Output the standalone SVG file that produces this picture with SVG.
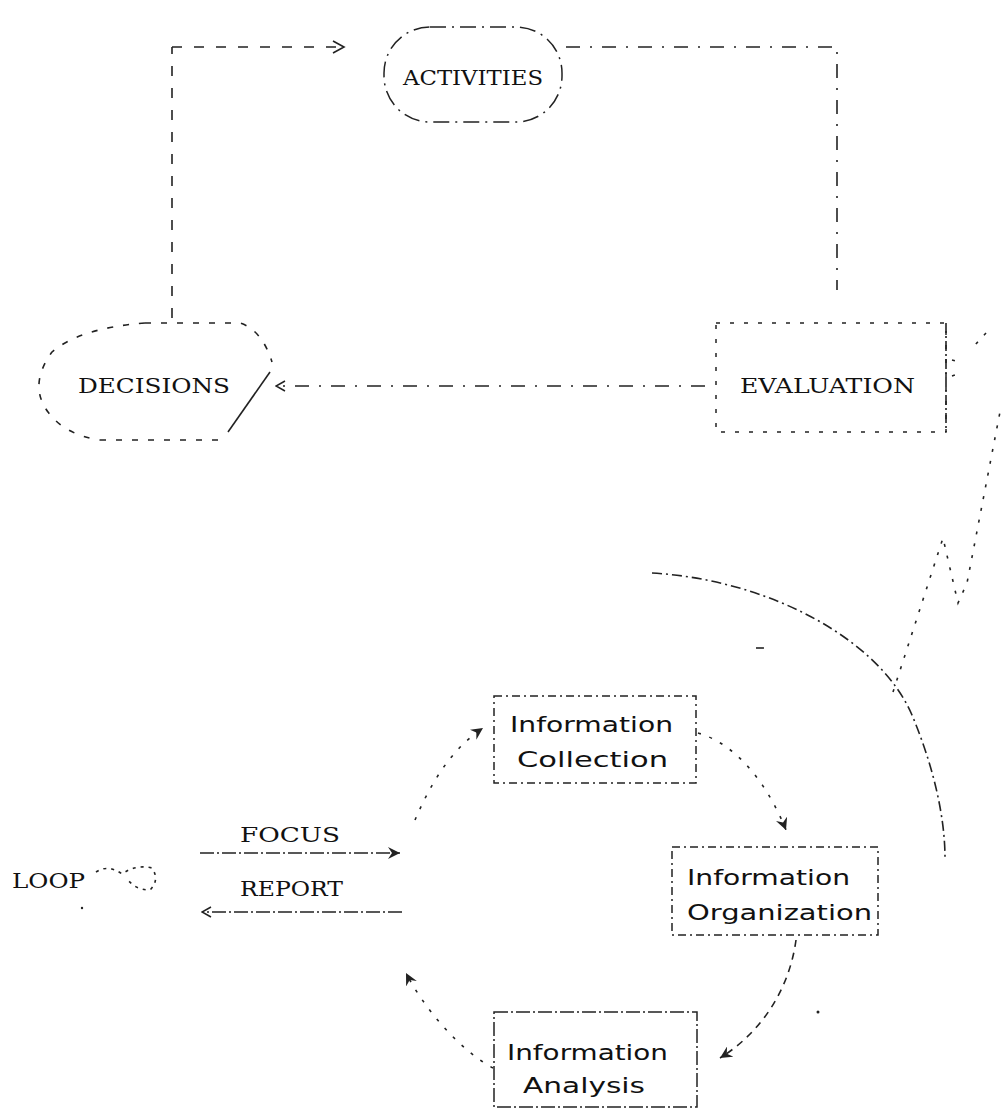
<svg xmlns="http://www.w3.org/2000/svg" width="1001" height="1110" viewBox="0 0 1001 1110">
<style>
.bg{fill:#fff}
.lbl{font-family:"DejaVu Serif","Liberation Serif",serif;font-size:21px;fill:#111}
.info{font-family:"DejaVu Sans","Liberation Sans",sans-serif;font-size:22px;fill:#111}
.dash{fill:none;stroke:#222;stroke-width:1.6;stroke-dasharray:10 12}
.dashdot{fill:none;stroke:#222;stroke-width:1.6;stroke-dasharray:14 10 2 10}
.dot{fill:none;stroke:#222;stroke-width:1.6;stroke-dasharray:3 9}
.box{fill:none;stroke:#222;stroke-width:1.5;stroke-dasharray:8 4 2 4}
.solid{fill:none;stroke:#222;stroke-width:1.6}
</style>
<defs>
<marker id="chev" markerWidth="14" markerHeight="14" refX="12" refY="7" orient="auto" markerUnits="userSpaceOnUse">
<path d="M1,1 L12,7 L1,13" fill="none" stroke="#222" stroke-width="1.6"/>
</marker>
<marker id="head" markerWidth="14" markerHeight="12" refX="12" refY="6" orient="auto" markerUnits="userSpaceOnUse">
<path d="M0,0 L12,6 L0,12 L4,6 Z" fill="#222"/>
</marker>
<marker id="opn" markerWidth="12" markerHeight="12" refX="11" refY="6" orient="auto" markerUnits="userSpaceOnUse">
<path d="M2,1 L11,6 L2,11" fill="none" stroke="#222" stroke-width="1.5"/>
</marker>
</defs>
<rect class="bg" width="1001" height="1110"/>

<g id="connectors">
<path class="dash" d="M172,318 L172,47"/>
<path class="dash" d="M172,47 L344,47" marker-end="url(#chev)"/>
<path class="dashdot" d="M566,47 L837,47 L837,290"/>
<path class="dashdot" d="M705,386 L276,386" marker-end="url(#opn)"/>
<path class="dot" style="stroke-dasharray:10 4 2 4" d="M652,573 C770,580 880,640 912,715 C935,770 945,820 945,858"/>
<path class="dot" d="M893,692 L943,538 L958,603 L967,583 L1000,412"/>
<path class="solid" d="M756,648 L764,648"/>
<path class="dot" d="M986,333 L975,345 M952,360 L960,362 M952,376 L958,374"/>
<path class="dot" d="M200,853 L400,853" style="stroke-dasharray:14 3 2 3" marker-end="url(#head)"/>
<path class="dot" d="M402,912 L202,912" style="stroke-dasharray:14 3 2 3" marker-end="url(#opn)"/>
<path class="dot" d="M415,820 C430,785 450,750 483,728" marker-end="url(#head)"/>
<path class="dot" d="M698,733 C740,745 770,790 786,830" marker-end="url(#head)"/>
<path class="dash" style="stroke-dasharray:7 6" d="M796,940 C790,985 765,1030 720,1058" marker-end="url(#head)"/>
<path class="dot" d="M493,1068 C460,1050 425,1010 406,973" marker-end="url(#head)"/>
<circle cx="818" cy="1012" r="1.5" fill="#222"/>
<circle cx="82" cy="908" r="1.2" fill="#222"/>
</g>

<g id="activities">
<rect class="box" style="stroke-dasharray:16 6 2 6" x="384" y="27" width="178" height="95" rx="46" ry="46"/>
<text class="lbl" x="403" y="85" textLength="140" lengthAdjust="spacingAndGlyphs">ACTIVITIES</text>
</g>

<g id="decisions">
<path class="dot" style="stroke-dasharray:6 10" d="M145,323 L240,323 Q262,330 272,362 M100,440 L225,440 M145,323 Q80,328 52,352 Q28,385 48,412 Q65,435 100,440"/>
<path class="solid" d="M270,372 L228,432"/>
<text class="lbl" x="78" y="393" textLength="152" lengthAdjust="spacingAndGlyphs">DECISIONS</text>
</g>

<g id="evaluation">
<rect class="box" style="stroke-dasharray:4 10" x="716" y="323" width="230" height="109"/>
<path class="solid" style="stroke-dasharray:10 3 2 3" d="M946,323 L946,432"/>
<text class="lbl" x="740" y="393" textLength="175" lengthAdjust="spacingAndGlyphs">EVALUATION</text>
</g>

<g id="focus">
<text class="lbl" x="240" y="842" textLength="100" lengthAdjust="spacingAndGlyphs">FOCUS</text>
</g>

<g id="loop">
<text class="lbl" x="12" y="888" textLength="73" lengthAdjust="spacingAndGlyphs">LOOP</text>
<path class="dot" style="stroke-dasharray:3 5" d="M96,872 Q108,864 122,874 Q136,864 152,868 Q160,880 150,890 Q136,890 128,880"/>
</g>

<g id="report">
<text class="lbl" x="240" y="896" textLength="103" lengthAdjust="spacingAndGlyphs">REPORT</text>
</g>

<g id="info-collection">
<rect class="box" x="494" y="696" width="202" height="87"/>
<text class="info" x="510" y="732" textLength="163" lengthAdjust="spacingAndGlyphs">Information</text>
<text class="info" x="517" y="767" textLength="151" lengthAdjust="spacingAndGlyphs">Collection</text>
</g>

<g id="info-organization">
<rect class="box" x="672" y="847" width="206" height="88"/>
<text class="info" x="687" y="885" textLength="163" lengthAdjust="spacingAndGlyphs">Information</text>
<text class="info" x="687" y="920" textLength="185" lengthAdjust="spacingAndGlyphs">Organization</text>
</g>

<g id="info-analysis">
<rect class="box" style="stroke-dasharray:14 3 2 3" x="494" y="1012" width="203" height="95"/>
<text class="info" x="507" y="1060" textLength="161" lengthAdjust="spacingAndGlyphs">Information</text>
<text class="info" x="523" y="1093" textLength="122" lengthAdjust="spacingAndGlyphs">Analysis</text>
</g>
</svg>
